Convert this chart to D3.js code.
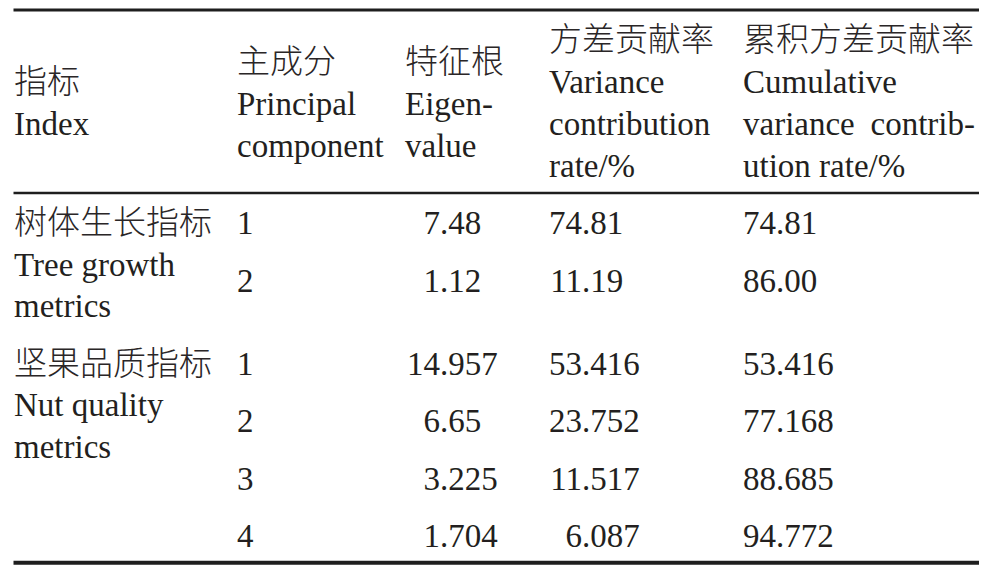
<!DOCTYPE html>
<html>
<head>
<meta charset="utf-8">
<script src="https://cdn.jsdelivr.net/npm/d3@7"></script>
<style>
  body { margin: 0; background: #fff; }
  svg text { fill: #231f20; font-family: "Liberation Serif", "Noto Sans CJK SC", serif; font-size: 33px; }
  svg text.zh { font-family: "Noto Sans CJK SC", sans-serif; font-size: 33px; font-weight: 300; fill: #2a2627; }
</style>
</head>
<body>
<svg width="985" height="568"></svg>
<script>
// table content
const columns = ["index", "component", "eigen", "variance", "cumulative"];
const headerZh = ["指标", "主成分", "特征根", "方差贡献率", "累积方差贡献率"];
const headerEn = [
  ["Index"],
  ["Principal", "component"],
  ["Eigen-", "value"],
  ["Variance", "contribution", "rate/%"],
  ["Cumulative", ["variance", "contrib-"], "ution rate/%"]
];
const groupsZh = ["树体生长指标", "坚果品质指标"];
const groupsEn = [["Tree growth", "metrics"], ["Nut quality", "metrics"]];
const groupOf = [0, 0, 1, 1, 1, 1];
const components = ["1", "2", "1", "2", "3", "4"];
const eigenvalues = ["7.48", "1.12", "14.957", "6.65", "3.225", "1.704"];
const variance = ["74.81", "11.19", "53.416", "23.752", "11.517", "6.087"];
const cumulative = ["74.81", "86.00", "53.416", "77.168", "88.685", "94.772"];

const svg = d3.select("svg");

const x = d3.scaleOrdinal().domain(columns).range([14, 237, 405, 549, 743]);
const xDecimal = d3.scaleOrdinal().domain(["eigen", "variance", "cumulative"]).range([440, 582, 776]);
const y = d3.scaleLinear().domain([0, 1]).range([234, 291.5]);
const slot = i => i + groupOf[i] * 0.45;

// rules
const rules = [
  { y: 10, w: 3.2 },
  { y: 193, w: 2.4 },
  { y: 562.7, w: 4 }
];
svg.selectAll("line.rule").data(rules).join("line")
  .attr("class", "rule")
  .attr("x1", 13.5).attr("x2", 979)
  .attr("y1", d => d.y).attr("y2", d => d.y)
  .attr("stroke", "#1e1e1e").attr("stroke-width", d => d.w);

// header
const headTop = [93, 73, 73, 51, 51];
const lineGap = 42;
columns.forEach((c, ci) => {
  svg.append("text").attr("class", "zh")
    .attr("x", x(c)).attr("y", headTop[ci]).text(headerZh[ci]);
  headerEn[ci].forEach((ln, li) => {
    const yy = headTop[ci] + lineGap * (li + 1);
    if (Array.isArray(ln)) {
      svg.append("text").attr("x", x(c)).attr("y", yy).text(ln[0]);
      svg.append("text").attr("x", 975).attr("y", yy)
        .attr("text-anchor", "end").text(ln[1]);
    } else {
      svg.append("text").attr("x", x(c)).attr("y", yy).text(ln);
    }
  });
});

// group labels
groupsZh.forEach((g, gi) => {
  const first = groupOf.indexOf(gi);
  const base = y(slot(first));
  svg.append("text").attr("class", "zh")
    .attr("x", x("index")).attr("y", base).text(g);
  groupsEn[gi].forEach((ln, li) => {
    svg.append("text").attr("x", x("index")).attr("y", base + 41.5 * (li + 1)).text(ln);
  });
});

// component numbers
svg.selectAll("text.comp").data(components).join("text")
  .attr("class", "comp")
  .attr("x", x("component"))
  .attr("y", (d, i) => y(slot(i)))
  .text(d => d);

// decimal-aligned numeric columns
const numeric = [["eigen", eigenvalues], ["variance", variance], ["cumulative", cumulative]];
numeric.forEach(([key, vals]) => {
  const g = svg.append("g");
  g.selectAll("text.int").data(vals).join("text")
    .attr("class", "int")
    .attr("x", xDecimal(key))
    .attr("y", (d, i) => y(slot(i)))
    .attr("text-anchor", "end")
    .text(d => d.split(".")[0]);
  g.selectAll("text.frac").data(vals).join("text")
    .attr("class", "frac")
    .attr("x", xDecimal(key))
    .attr("y", (d, i) => y(slot(i)))
    .text(d => "." + d.split(".")[1]);
});
</script>
</body>
</html>
